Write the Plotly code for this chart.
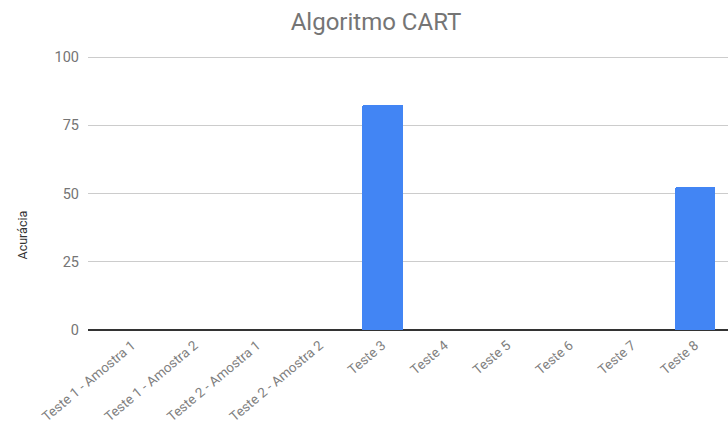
import plotly.graph_objects as go

categorias = ["Teste 1 - Amostra 1", "Teste 1 - Amostra 2", "Teste 2 - Amostra 1",
              "Teste 2 - Amostra 2", "Teste 3", "Teste 4", "Teste 5", "Teste 6",
              "Teste 7", "Teste 8"]
acuracia = [0, 0, 0, 0, 82.5, 0, 0, 0, 0, 52.3]
ticks_y = [0, 25, 50, 75, 100]

fig = go.Figure(go.Bar(
    x=list(range(len(categorias))), y=acuracia,
    marker=dict(color="#4285F4", line=dict(width=0), cornerradius=2),
    width=0.65,
))

fig.update_layout(
    width=728, height=429,
    margin=dict(l=88, r=0, t=56, b=99),
    paper_bgcolor="white", plot_bgcolor="white",
    font=dict(family="Roboto", color="#757575"),
    title=dict(text="Algoritmo CART", x=376 / 728, xanchor="center", xref="container",
               y=1 - 22 / 429, yanchor="middle", yref="container",
               font=dict(size=24, color="#757575", family="Roboto")),
    showlegend=False,
    bargap=0,
    annotations=[dict(
        text="Acurácia", textangle=-90, showarrow=False,
        xref="paper", yref="paper", x=(22.5 - 88) / 640, y=(330 - 235) / 274,
        xanchor="center", yanchor="middle",
        font=dict(size=12.5, color="#333333", family="Roboto"),
    )],
)
fig.update_xaxes(
    tickmode="array", tickvals=list(range(len(categorias))), ticktext=categorias,
    range=[-0.704, 9.53], tickangle=-40, showgrid=False, zeroline=False,
    showline=False, ticks="", ticklabelstandoff=4,
    tickfont=dict(size=13.5, color="#808080"),
)
fig.update_yaxes(
    range=[0, 100.4], tickvals=ticks_y, showgrid=True, gridcolor="#cccccc", gridwidth=1,
    zeroline=True, zerolinecolor="#333333", zerolinewidth=2,
    ticks="", ticklen=0, ticklabelstandoff=8,
    tickfont=dict(size=14.5, color="#757575"),
)

fig.write_html("out.html")
